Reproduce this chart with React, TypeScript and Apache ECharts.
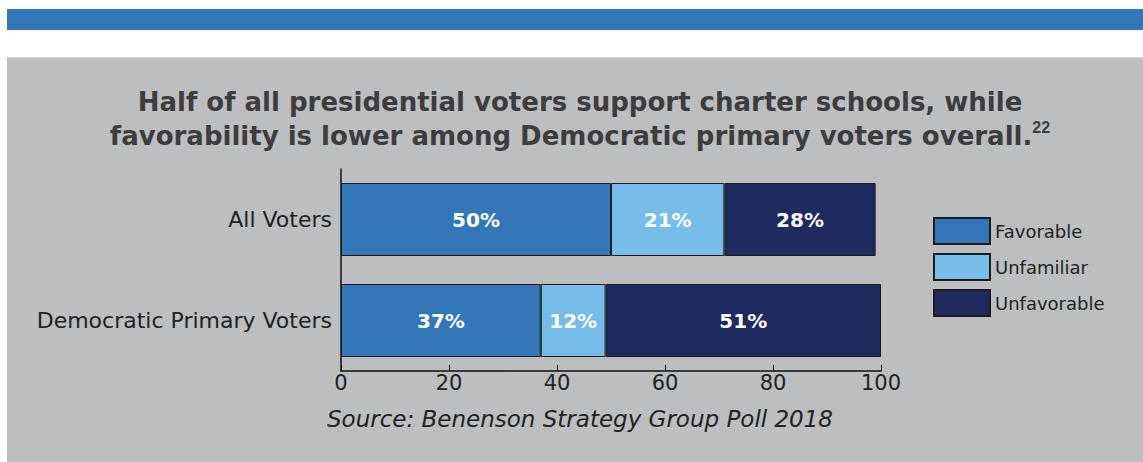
import React, { useEffect, useRef } from "react";
import * as echarts from "echarts";

const categories = ["All Voters", "Democratic Primary Voters"];
const favorable = [50, 37];
const unfamiliar = [21, 12];
const unfavorable = [28, 51];
const xTicks = { min: 0, max: 100, interval: 20 };
const titleLine1 = "Half of all presidential voters support charter schools, while";
const titleLine2 = "favorability is lower among Democratic primary voters overall.";
const footnote = "22";
const source = "Source: Benenson Strategy Group Poll 2018";

const FONT = "DejaVu Sans";

export default function App() {
  const ref = useRef<HTMLDivElement>(null);
  useEffect(() => {
    const chart = echarts.init(ref.current!, undefined, { renderer: "svg" });
    const label = {
      show: true,
      position: "inside",
      formatter: "{c}%",
      color: "#ffffff",
      fontWeight: "bold",
      fontSize: 20,
      fontFamily: FONT,
    };
    const mk = (name: string, data: number[], color: string) => ({
      name,
      type: "bar",
      stack: "total",
      data,
      barWidth: 73,
      itemStyle: { color, borderColor: "#1b1b1b", borderWidth: 1 },
      label,
    });
    chart.setOption({
      animation: false,
      backgroundColor: "#ffffff",
      textStyle: { fontFamily: FONT },
      graphic: [
        { type: "rect", z: -10, silent: true, shape: { x: 7, y: 9, width: 1136, height: 21 }, style: { fill: "#3477b8" } },
        { type: "rect", z: -10, silent: true, shape: { x: 7, y: 57, width: 1136, height: 405 }, style: { fill: "#bdbec0" } },
        { type: "rect", z: -9, silent: true, shape: { x: 7, y: 57, width: 1136, height: 1 }, style: { fill: "#d6d6d8" } },
        {
          type: "text",
          z: 10,
          x: 580,
          y: 85,
          style: {
            text: titleLine1 + "\n" + titleLine2 + "{sup|" + footnote + "}",
            textAlign: "center",
            fill: "#3d3d3f",
            font: `bold 26px "${FONT}"`,
            lineHeight: 34,
            rich: {
              sup: { fontSize: 16, fontWeight: "bold", fill: "#3d3d3f", verticalAlign: "top", lineHeight: 30 },
            },
          },
        },
        {
          type: "text",
          z: 10,
          x: 580,
          y: 407,
          style: {
            text: source,
            textAlign: "center",
            fill: "#222222",
            font: `italic 23px "${FONT}"`,
          },
        },
      ],
      legend: {
        orient: "vertical",
        left: 928,
        top: 212,
        icon: "rect",
        itemWidth: 56,
        itemHeight: 26,
        itemGap: 8,
        textStyle: { fontSize: 18, color: "#222222", fontFamily: FONT },
        data: ["Favorable", "Unfamiliar", "Unfavorable"],
      },
      grid: { left: 341, right: 1143 - 881, top: 169, bottom: 462 - 371, containLabel: false },
      xAxis: {
        type: "value",
        min: xTicks.min,
        max: xTicks.max,
        interval: xTicks.interval,
        axisLine: { show: true, lineStyle: { color: "#111111", width: 1.5 } },
        axisTick: { show: true, inside: true, length: 6, lineStyle: { color: "#111111" } },
        splitLine: { show: false },
        axisLabel: { fontSize: 21, color: "#222222", margin: 1, fontFamily: FONT },
      },
      yAxis: {
        type: "category",
        inverse: true,
        data: categories,
        axisLine: { show: true, lineStyle: { color: "#111111", width: 1.5 } },
        axisTick: { show: false },
        axisLabel: { fontSize: 22, color: "#222222", margin: 9, fontFamily: FONT },
      },
      series: [
        mk("Favorable", favorable, "#3477b8"),
        mk("Unfamiliar", unfamiliar, "#77bde9"),
        mk("Unfavorable", unfavorable, "#1f2a5e"),
      ],
    });
    return () => chart.dispose();
  }, []);
  return (
    <div
      ref={ref}
      style={{ position: "absolute", left: 0, top: 0, width: 1143, height: 462 }}
    />
  );
}
